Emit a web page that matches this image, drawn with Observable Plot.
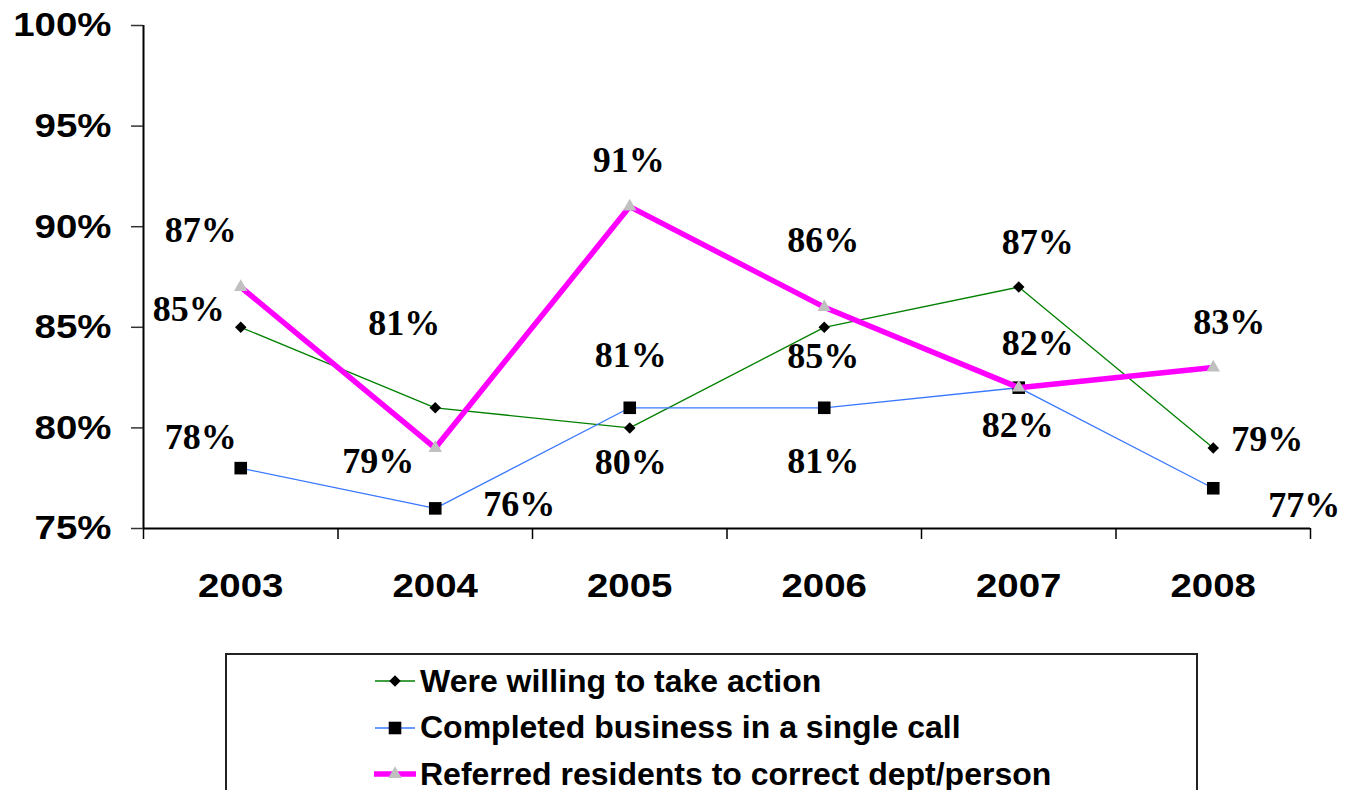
<!DOCTYPE html>
<html>
<head>
<meta charset="utf-8">
<script src="https://cdn.jsdelivr.net/npm/d3@7"></script>
<script src="https://cdn.jsdelivr.net/npm/@observablehq/plot@0.6"></script>
<style>
  html, body { margin: 0; padding: 0; background: #fff; overflow: hidden; }
  #chart svg { display: block; }
  #legend {
    position: relative;
    margin-left: 225px;
    margin-top: 13px;
    width: 973px;
    height: 160px;
    border: 2px solid #222;
    box-sizing: border-box;
    font-family: "Liberation Sans", Arial, sans-serif;
    font-weight: bold;
    font-size: 32px;
    color: #000;
  }
  .item { position: absolute; left: 147px; height: 40px; display: flex; align-items: center; white-space: nowrap; }
  .item svg { margin-right: 4px; }
</style>
</head>
<body>
<div id="chart"></div>
<div id="legend"></div>
<script>
// ---- data ----
const years = [2003, 2004, 2005, 2006, 2007, 2008];
const willing = [85, 81, 80, 85, 87, 79];
const singleCall = [78, 76, 81, 81, 82, 77];
const referred = [87, 79, 91, 86, 82, 83];
const seriesNames = [
  "Were willing to take action",
  "Completed business in a single call",
  "Referred residents to correct dept/person"
];
const yTicks = [75, 80, 85, 90, 95, 100];

// ---- label placement offsets (pixels, relative to each point) ----
const willingLabelDx = [-52, -31, 1, -1, 19, 54];
const willingLabelDy = [-18, -84, 35, 29, -45, -9];
const singleLabelDx = [-40, 84, 1, -1, 19, 91];
const singleLabelDy = [-31, -4, -52, 54, -44, 17];
const referredLabelDx = [-40, -57, -1, -1, -1, 16];
const referredLabelDy = [-57, 13, -46, -67, 38, -45];

const series = [
  {name: seriesNames[0], values: willing, color: "#008000", width: 1.3, symbol: "diamond2", r: 5.2, fill: "#000", dx: willingLabelDx, dy: willingLabelDy},
  {name: seriesNames[1], values: singleCall, color: "#3a78ff", width: 1.3, symbol: "square", r: 7.1, fill: "#000", dx: singleLabelDx, dy: singleLabelDy},
  {name: seriesNames[2], values: referred, color: "#ff00ff", width: 5.5, symbol: "triangle", r: 5, fill: "#c0c0c0", dx: referredLabelDx, dy: referredLabelDy}
];

const marks = [];
// axis lines
marks.push(Plot.ruleX([2002.5], {y1: 75, y2: 100, stroke: "#000", strokeWidth: 2}));
marks.push(Plot.ruleY([75], {x1: 2002.5, x2: 2008.5, stroke: "#000", strokeWidth: 2}));
// x boundary ticks
marks.push(Plot.axisX({ticks: d3.range(2002.5, 2009, 1), tickSize: 11, tickFormat: () => "", label: null, stroke: "#000", strokeWidth: 1.5}));
// x year labels
marks.push(Plot.axisX({ticks: years, tickSize: 0, tickPadding: 44, tickFormat: d => String(d), label: null,
  fontSize: 34, fontWeight: "bold", fontFamily: "Liberation Sans, Arial, sans-serif", fill: "#000"}));
// y axis
marks.push(Plot.axisY({ticks: yTicks, tickSize: 12, tickPadding: 20, tickFormat: d => d + "%", label: null,
  fontSize: 34, fontWeight: "bold", fontFamily: "Liberation Sans, Arial, sans-serif", fill: "#000", stroke: "#333", strokeWidth: 1.5}));

for (const s of series) {
  const rows = years.map((y, i) => ({year: y, value: s.values[i]}));
  marks.push(Plot.line(rows, {x: "year", y: "value", stroke: s.color, strokeWidth: s.width, strokeLinejoin: "miter"}));
  marks.push(Plot.dot(rows, {x: "year", y: "value", symbol: s.symbol, r: s.r, fill: s.fill, stroke: "none"}));
}
for (const s of series) {
  years.forEach((y, i) => {
    marks.push(Plot.text([{year: y, value: s.values[i]}], {
      x: "year", y: "value", text: d => d.value + "%",
      dx: s.dx[i], dy: s.dy[i],
      fontSize: 36, fontWeight: "bold", fontFamily: "Liberation Serif, Times New Roman, serif", fill: "#000"
    }));
  });
}

const chart = Plot.plot({
  width: 1345,
  height: 640,
  marginLeft: 143,
  marginRight: 35,
  marginTop: 25,
  marginBottom: 112,
  x: {type: "linear", domain: [2002.5, 2008.5], axis: null, label: null},
  y: {type: "linear", domain: [75, 100], axis: null, label: null},
  style: {background: "#fff", color: "#000"},
  marks
});
document.getElementById("chart").appendChild(chart);

// horizontally widen the tick labels, as in the original
chart.querySelectorAll('g[aria-label$="tick label"] text').forEach(t => {
  const L = t.getComputedTextLength();
  if (L > 0) {
    t.setAttribute("textLength", (L * 1.13).toFixed(1));
    t.setAttribute("lengthAdjust", "spacingAndGlyphs");
  }
});

// legend
const legend = document.getElementById("legend");
series.forEach((s, i) => {
  const item = document.createElement("div");
  item.className = "item";
  item.style.top = (6 + i * 46.5) + "px";
  const ns = "http://www.w3.org/2000/svg";
  const sw = document.createElementNS(ns, "svg");
  sw.setAttribute("width", 42);
  sw.setAttribute("height", 20);
  const ln = document.createElementNS(ns, "line");
  ln.setAttribute("x1", 1); ln.setAttribute("x2", 41);
  ln.setAttribute("y1", 10); ln.setAttribute("y2", 10);
  ln.setAttribute("stroke", s.color);
  ln.setAttribute("stroke-width", s.width);
  ln.setAttribute("stroke-linecap", s.width > 2 ? "round" : "butt");
  sw.appendChild(ln);
  const p = document.createElementNS(ns, "path");
  const sym = s.symbol === "diamond2" ? d3.symbolDiamond2 : s.symbol === "square" ? d3.symbolSquare : d3.symbolTriangle;
  p.setAttribute("d", d3.symbol(sym, Math.PI * s.r * s.r)());
  p.setAttribute("transform", "translate(21,10)");
  p.setAttribute("fill", s.fill);
  sw.appendChild(p);
  item.appendChild(sw);
  const txt = document.createElement("span");
  txt.textContent = s.name;
  item.appendChild(txt);
  legend.appendChild(item);
});
</script>
</body>
</html>
